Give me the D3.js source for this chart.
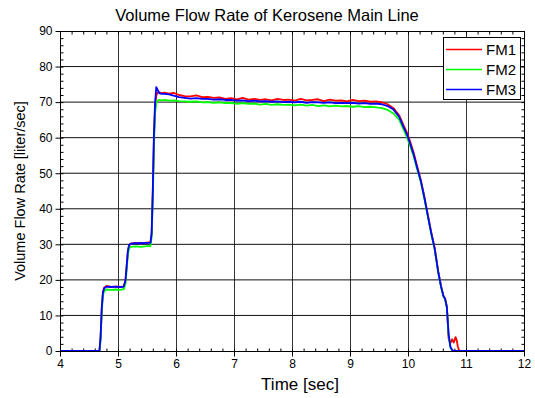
<!DOCTYPE html>
<html lang="en">
	<head>
		<meta charset="utf-8">
		<title>Volume Flow Rate of Kerosene Main Line</title>
		<style type="text/css">
			body { margin: 0; background: #fff; }
			text { font-family: "Liberation Sans", Arial, sans-serif; }
		</style>
	</head>
	<body>
		<script src="https://cdn.jsdelivr.net/npm/d3@7"></script>
		<script type="text/javascript">
			//Width and height
			var w = 535;
			var h = 398;
			var margin = {left: 60, right: 11, top: 31, bottom: 47};

			//Data
			var seriesNames = ["FM1", "FM2", "FM3"];
			var seriesColors = ["#ff0000", "#00ff00", "#0000ff"];

			var times = [
				4.0, 4.68, 4.70, 4.72, 4.74, 4.76, 4.80, 4.88, 4.96, 5.04,
				5.10, 5.13, 5.15, 5.17, 5.19, 5.22, 5.30, 5.40, 5.50, 5.56,
				5.58, 5.60, 5.62, 5.64, 5.66, 5.68, 5.71, 5.75, 5.80, 5.88,
				5.96, 6.05, 6.15, 6.25, 6.35, 6.45, 6.55, 6.65, 6.75, 6.85,
				6.95, 7.05, 7.15, 7.25, 7.35, 7.45, 7.55, 7.65, 7.75, 7.85,
				7.95, 8.05, 8.15, 8.25, 8.35, 8.45, 8.55, 8.65, 8.75, 8.85,
				8.95, 9.05, 9.15, 9.25, 9.35, 9.45, 9.55, 9.65, 9.75, 9.85,
				9.92, 9.98, 10.04, 10.10, 10.16, 10.22, 10.28, 10.34, 10.40, 10.46,
				10.52, 10.57, 10.61, 10.64, 10.67, 10.70, 10.73, 10.76, 10.79, 10.82,
				10.84, 10.86, 10.88, 10.90, 11.0, 12.0
			];

			var fm1 = [
				0, 0, 4, 12, 16.5, 17.8, 18.3, 18.0, 18.1, 18.0,
				18.2, 20, 24, 28, 29.6, 30.2, 30.4, 30.3, 30.5, 30.6,
				33, 45, 60, 69, 71.8, 72.6, 72.8, 72.5, 72.7, 72.4,
				72.6, 72.0, 71.7, 71.6, 71.9, 71.4, 71.5, 71.2, 71.3, 70.9,
				71.1, 70.8, 71.2, 70.7, 70.9, 70.6, 70.8, 70.5, 70.9, 70.6,
				70.7, 70.4, 70.9, 70.5, 70.6, 70.8, 70.3, 70.7, 70.4, 70.5,
				70.2, 70.6, 70.3, 70.4, 70.1, 70.2, 69.9, 69.4, 68.3, 66.2,
				63.6, 61.5, 58.8, 55.6, 51.8, 48.2, 43.6, 38.5, 33.5, 29.0,
				22.5, 18.3, 15.6, 14.8, 12.5, 3.5, 2.2, 3.3, 2.4, 3.9,
				3.0, 1.2, 0.2, 0, 0, 0
			];

			var fm2 = [
				0, 0, 3, 11, 15.5, 16.8, 17.3, 17.2, 17.3, 17.2,
				17.4, 19, 23, 27, 28.8, 29.3, 29.4, 29.3, 29.5, 29.5,
				32, 43, 58, 67, 69.8, 70.4, 70.6, 70.5, 70.6, 70.4,
				70.5, 70.3, 70.2, 70.1, 70.2, 69.9, 70.0, 69.8, 69.9, 69.7,
				69.8, 69.5, 69.7, 69.5, 69.6, 69.3, 69.5, 69.2, 69.4, 69.2,
				69.3, 69.1, 69.3, 69.0, 69.2, 68.9, 69.1, 68.8, 69.0, 68.8,
				68.9, 68.7, 68.9, 68.6, 68.7, 68.5, 68.3, 67.8, 66.8, 65.0,
				62.4, 60.2, 57.6, 54.6, 51.0, 47.6, 43.0, 38.0, 33.0, 28.5,
				22.2, 18.0, 15.4, 14.5, 12.2, 4.5, 1.0, 0.2, 0, 0,
				0, 0, 0, 0, 0, 0
			];

			var fm3 = [
				0, 0, 4, 12, 16.3, 17.6, 18.1, 18.0, 18.1, 18.0,
				18.1, 20, 24, 28, 29.8, 30.2, 30.3, 30.3, 30.4, 30.4,
				33, 45, 61, 70, 74.2, 73.6, 72.5, 72.3, 72.3, 72.2,
				71.8, 71.4, 71.2, 71.0, 71.1, 70.9, 70.9, 70.7, 70.8, 70.6,
				70.6, 70.4, 70.5, 70.3, 70.4, 70.2, 70.3, 70.1, 70.2, 70.0,
				70.1, 69.9, 70.1, 69.8, 70.0, 69.9, 69.8, 69.9, 69.7, 69.8,
				69.7, 69.8, 69.6, 69.7, 69.5, 69.6, 69.4, 68.9, 67.9, 65.8,
				63.1, 61.0, 58.2, 55.1, 51.4, 47.9, 43.3, 38.2, 33.2, 28.8,
				22.3, 18.1, 15.5, 14.6, 12.3, 4.8, 1.2, 0.3, 0, 0,
				0, 0, 0, 0, 0, 0
			];

			var xTicks = [4, 5, 6, 7, 8, 9, 10, 11, 12];
			var yTicks = [0, 10, 20, 30, 40, 50, 60, 70, 80, 90];

			var series = [fm1, fm2, fm3].map(function(v, i) {
				return {name: seriesNames[i], color: seriesColors[i], values: v};
			});

			//Scales
			var xScale = d3.scaleLinear()
						.domain([4, 12])
						.range([margin.left, w - margin.right]);

			var yScale = d3.scaleLinear()
						.domain([0, 90])
						.range([h - margin.bottom, margin.top]);

			var x0 = margin.left, x1 = w - margin.right;
			var y0 = h - margin.bottom, y1 = margin.top;

			//Create SVG element
			var svg = d3.select("body")
						.append("svg")
						.attr("width", w)
						.attr("height", h);

			//Grid
			svg.append("g")
			   .selectAll("line")
			   .data(xTicks.slice(1, -1))
			   .enter()
			   .append("line")
			   .attr("x1", function(d) { return Math.round(xScale(d)) + 0.5; })
			   .attr("x2", function(d) { return Math.round(xScale(d)) + 0.5; })
			   .attr("y1", y1)
			   .attr("y2", y0)
			   .attr("stroke", "#333")
			   .attr("stroke-width", 1);

			svg.append("g")
			   .selectAll("line")
			   .data(yTicks.slice(1, -1))
			   .enter()
			   .append("line")
			   .attr("x1", x0)
			   .attr("x2", x1)
			   .attr("y1", function(d) { return yScale(d); })
			   .attr("y2", function(d) { return yScale(d); })
			   .attr("stroke", "#111")
			   .attr("stroke-width", 1);

			//Axes (major out, minor in on left/bottom; all in on top/right)
			var minorX = d3.range(0, 41).map(function(i) { return 4 + i * 0.2; });
			var minorY = d3.range(0, 46).map(function(i) { return i * 2; });

			var bottomAxis = d3.axisBottom(xScale).tickValues(xTicks).tickSize(5).tickPadding(3).tickSizeOuter(0);
			var leftAxis = d3.axisLeft(yScale).tickValues(yTicks).tickSize(5).tickPadding(3).tickSizeOuter(0);

			var gx = svg.append("g")
			   .attr("transform", "translate(0," + (y0 + 0.5) + ")")
			   .call(bottomAxis);
			var gy = svg.append("g")
			   .attr("transform", "translate(" + (x0 + 0.5) + ",0)")
			   .call(leftAxis);

			[gx, gy].forEach(function(g) {
				g.select(".domain").remove();
				g.selectAll("text")
				 .attr("font-family", "Liberation Sans, Arial, sans-serif")
				 .attr("font-size", "12px")
				 .attr("fill", "#000");
				g.selectAll(".tick line").attr("stroke", "#000");
			});

			svg.append("g")
			   .attr("transform", "translate(0," + (y0 + 0.5) + ")")
			   .call(d3.axisTop(xScale).tickValues(minorX).tickSize(3).tickFormat("").tickSizeOuter(0))
			   .select(".domain").remove();
			svg.append("g")
			   .attr("transform", "translate(0," + (y1 + 0.5) + ")")
			   .call(d3.axisBottom(xScale).tickValues(minorX).tickSize(3).tickFormat("").tickSizeOuter(0))
			   .select(".domain").remove();
			svg.append("g")
			   .attr("transform", "translate(" + (x0 + 0.5) + ",0)")
			   .call(d3.axisRight(yScale).tickValues(minorY).tickSize(3).tickFormat("").tickSizeOuter(0))
			   .select(".domain").remove();
			svg.append("g")
			   .attr("transform", "translate(" + (x1 + 0.5) + ",0)")
			   .call(d3.axisLeft(yScale).tickValues(minorY).tickSize(3).tickFormat("").tickSizeOuter(0))
			   .select(".domain").remove();

			//Lines
			var line = d3.line()
						.x(function(d, i) { return xScale(times[i]); })
						.y(function(d) { return yScale(d); });

			svg.append("g")
			   .selectAll("path")
			   .data(series)
			   .enter()
			   .append("path")
			   .attr("d", function(d) { return line(d.values); })
			   .attr("fill", "none")
			   .attr("stroke", function(d) { return d.color; })
			   .attr("stroke-width", 1.8)
			   .attr("stroke-linejoin", "round");

			//Frame
			svg.append("rect")
			   .attr("x", x0 + 0.5)
			   .attr("y", y1 + 0.5)
			   .attr("width", x1 - x0)
			   .attr("height", y0 - y1)
			   .attr("fill", "none")
			   .attr("stroke", "#000");

			//Legend
			var legend = svg.append("g");
			legend.append("rect")
			   .attr("x", 443.5)
			   .attr("y", 37.5)
			   .attr("width", 77)
			   .attr("height", 62)
			   .attr("fill", "#fff")
			   .attr("stroke", "#000");

			legend.selectAll("path.key")
			   .data(series)
			   .enter()
			   .append("path")
			   .attr("class", "key")
			   .attr("d", function(d, i) { var y = 49.5 + i * 20; return "M446," + y + "H482"; })
			   .attr("fill", "none")
			   .style("stroke", function(d) { return d.color; })
			   .style("stroke-width", "1.3px");
			legend.selectAll("text.key")
			   .data(series)
			   .enter()
			   .append("text")
			   .attr("class", "key")
			   .attr("x", 486)
			   .attr("y", function(d, i) { return 55 + i * 20; })
			   .attr("font-size", "15px")
			   .text(function(d) { return d.name; });

			//Titles
			svg.append("text")
			   .attr("x", 267)
			   .attr("y", 21)
			   .attr("text-anchor", "middle")
			   .attr("font-size", "16.5px")
			   .text("Volume Flow Rate of Kerosene Main Line");

			svg.append("text")
			   .attr("x", 300)
			   .attr("y", 390)
			   .attr("text-anchor", "middle")
			   .attr("font-size", "17px")
			   .text("Time [sec]");

			svg.append("text")
			   .attr("transform", "translate(25,191) rotate(-90)")
			   .attr("text-anchor", "middle")
			   .attr("font-size", "14.5px")
			   .text("Volume Flow Rate [liter/sec]");
		</script>
	</body>
</html>
